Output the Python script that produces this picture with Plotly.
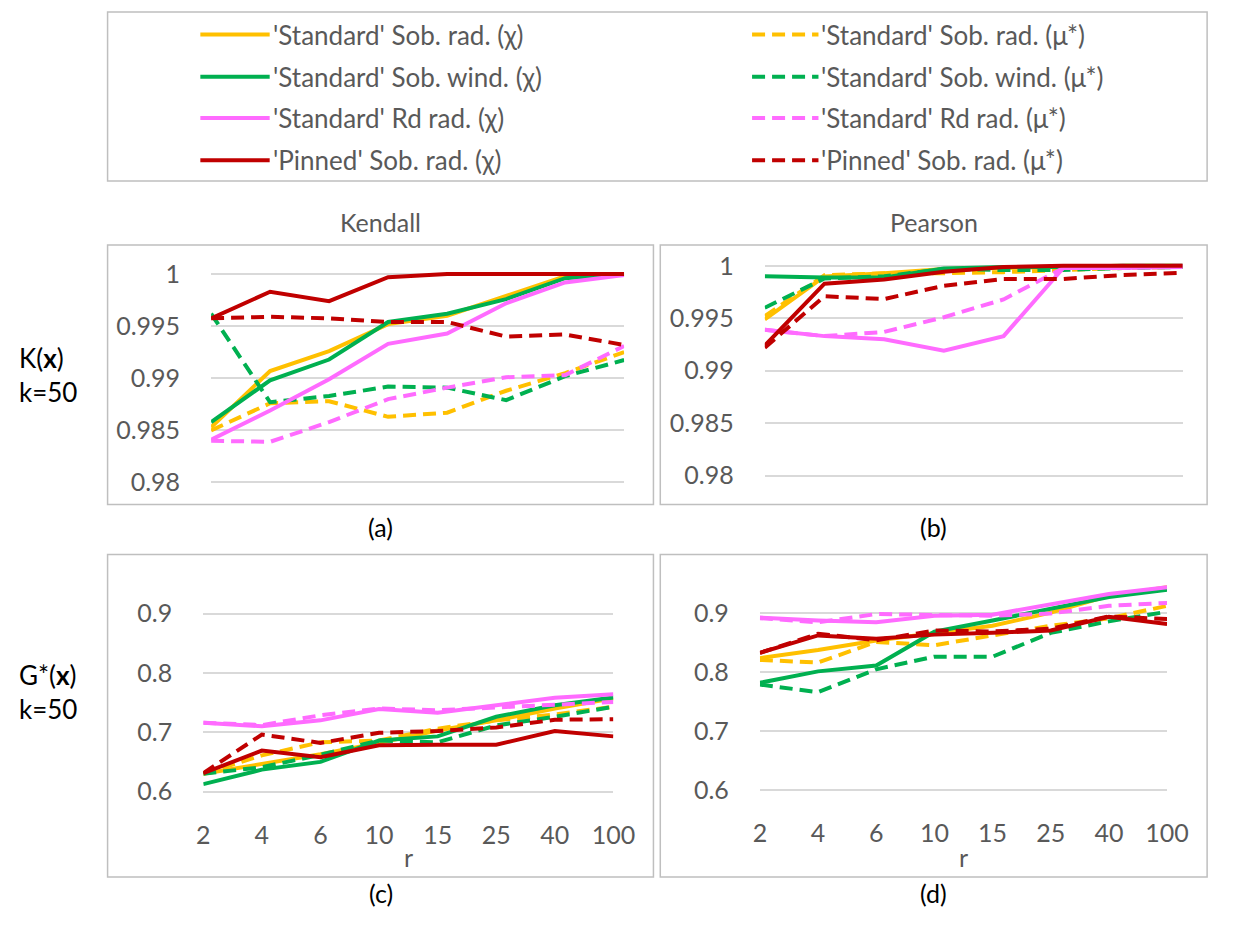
import plotly.graph_objects as go

W, H = 1234, 939

categories = ["2", "4", "6", "10", "15", "25", "40", "100"]

series_names = [
    "'Standard' Sob. rad. (χ)", "'Standard' Sob. rad. (μ*)",
    "'Standard' Sob. wind. (χ)", "'Standard' Sob. wind. (μ*)",
    "'Standard' Rd rad. (χ)", "'Standard' Rd rad. (μ*)",
    "'Pinned' Sob. rad. (χ)", "'Pinned' Sob. rad. (μ*)",
]
series_colors = ["#FFC000", "#FFC000", "#00B050", "#00B050",
                 "#FF6BFF", "#FF6BFF", "#C00000", "#C00000"]
series_dash = ["solid", "13px,7px"] * 4

# (a) K(x), Kendall
kend_sob_rad_chi = [0.9853, 0.9907, 0.9926, 0.9952, 0.9960, 0.9979, 0.9998, 1.0]
kend_sob_rad_mu = [0.9850, 0.9876, 0.9878, 0.9863, 0.9867, 0.9888, 0.9905, 0.9925]
kend_sob_wind_chi = [0.9858, 0.9898, 0.9918, 0.9954, 0.9962, 0.9976, 0.9996, 1.0]
kend_sob_wind_mu = [0.9962, 0.9877, 0.9883, 0.9892, 0.9891, 0.9879, 0.9902, 0.99175]
kend_rd_chi = [0.9841, 0.9869, 0.9899, 0.9933, 0.9943, 0.9972, 0.9992, 0.9999]
kend_rd_mu = [0.9840, 0.9839, 0.9858, 0.9880, 0.9891, 0.9901, 0.9903, 0.9931]
kend_pin_chi = [0.99575, 0.9983, 0.9974, 0.9997, 1.0, 1.0, 1.0, 1.0]
kend_pin_mu = [0.99575, 0.9959, 0.99575, 0.9954, 0.9954, 0.9940, 0.9942, 0.9932]

# (b) K(x), Pearson
pear_sob_rad_chi = [0.9949, 0.9990, 0.9993, 0.9997, 0.9998, 0.9999, 1.0, 1.0]
pear_sob_rad_mu = [0.9952, 0.9991, 0.9993, 0.9993, 0.9994, 0.9996, 0.9998, 0.9999]
pear_sob_wind_chi = [0.9990, 0.9989, 0.9989, 0.99975, 0.9999, 0.9999, 1.0, 1.0]
pear_sob_wind_mu = [0.9960, 0.9988, 0.9990, 0.9997, 0.9996, 0.9996, 0.9998, 0.9999]
pear_rd_chi = [0.9939, 0.9933, 0.9930, 0.9919, 0.9933, 0.9998, 0.9998, 0.9999]
pear_rd_mu = [0.9939, 0.9933, 0.9937, 0.9951, 0.9968, 0.9998, 1.0, 1.0]
pear_pin_chi = [0.9924, 0.9983, 0.9987, 0.99944, 0.9999, 1.0, 1.0, 1.0]
pear_pin_mu = [0.9922, 0.9971, 0.99684, 0.9981, 0.99875, 0.99875, 0.99913, 0.99934]

# (c) G*(x), Kendall
gk_sob_rad_chi = [0.630, 0.6465, 0.663, 0.682, 0.703, 0.720, 0.740, 0.757]
gk_sob_rad_mu = [0.630, 0.661, 0.683, 0.686, 0.706, 0.720, 0.730, 0.743]
gk_sob_wind_chi = [0.6125, 0.637, 0.650, 0.686, 0.693, 0.726, 0.7455, 0.7585]
gk_sob_wind_mu = [0.630, 0.641, 0.662, 0.686, 0.683, 0.7115, 0.726, 0.743]
gk_rd_chi = [0.716, 0.710, 0.720, 0.739, 0.733, 0.7455, 0.758, 0.764]
gk_rd_mu = [0.716, 0.712, 0.7285, 0.740, 0.737, 0.742, 0.7455, 0.751]
gk_pin_chi = [0.631, 0.669, 0.658, 0.678, 0.679, 0.679, 0.702, 0.693]
gk_pin_mu = [0.631, 0.696, 0.682, 0.699, 0.702, 0.708, 0.721, 0.722]

# (d) G*(x), Pearson
gp_sob_rad_chi = [0.824, 0.8377, 0.854, 0.867, 0.879, 0.9015, 0.930, 0.9445]
gp_sob_rad_mu = [0.821, 0.8165, 0.8516, 0.846, 0.8627, 0.879, 0.8917, 0.913]
gp_sob_wind_chi = [0.782, 0.8015, 0.8115, 0.869, 0.888, 0.908, 0.928, 0.9405]
gp_sob_wind_mu = [0.779, 0.766, 0.805, 0.8265, 0.8265, 0.867, 0.8866, 0.903]
gp_rd_chi = [0.893, 0.888, 0.885, 0.896, 0.898, 0.9156, 0.933, 0.9445]
gp_rd_mu = [0.892, 0.885, 0.899, 0.898, 0.896, 0.900, 0.913, 0.918]
gp_pin_chi = [0.833, 0.8627, 0.857, 0.864, 0.867, 0.871, 0.8944, 0.882]
gp_pin_mu = [0.833, 0.8655, 0.8544, 0.871, 0.8694, 0.874, 0.895, 0.8905]

k_ticks = [0.98, 0.985, 0.99, 0.995, 1.0]
k_ticktext = ["0.98", "0.985", "0.99", "0.995", "1"]
g_ticks = [0.6, 0.7, 0.8, 0.9]
g_ticktext = ["0.6", "0.7", "0.8", "0.9"]

panels_data = [
    [kend_sob_rad_chi, kend_sob_rad_mu, kend_sob_wind_chi, kend_sob_wind_mu,
     kend_rd_chi, kend_rd_mu, kend_pin_chi, kend_pin_mu],
    [pear_sob_rad_chi, pear_sob_rad_mu, pear_sob_wind_chi, pear_sob_wind_mu,
     pear_rd_chi, pear_rd_mu, pear_pin_chi, pear_pin_mu],
    [gk_sob_rad_chi, gk_sob_rad_mu, gk_sob_wind_chi, gk_sob_wind_mu,
     gk_rd_chi, gk_rd_mu, gk_pin_chi, gk_pin_mu],
    [gp_sob_rad_chi, gp_sob_rad_mu, gp_sob_wind_chi, gp_sob_wind_mu,
     gp_rd_chi, gp_rd_mu, gp_pin_chi, gp_pin_mu],
]


def fx(px):
    return px / W


def fy(py):
    return 1 - py / H


FONT = "Lato, 'Open Sans', sans-serif"
GREY = "#595959"
BORDER = "#BFBFBF"

# panel geometry in pixels: x domain (left, right), y domain (top, bottom), y range
panel_geo = [
    dict(x=(209, 632), y=(262.2, 488.0), yr=[0.9795, 1.0008], tv=k_ticks, tt=k_ticktext, xl=False),
    dict(x=(776, 1204), y=(253.8, 481.0), yr=[0.9795, 1.0008], tv=k_ticks, tt=k_ticktext, xl=False),
    dict(x=(201, 621), y=(579.8, 803.2), yr=[0.59, 0.96], tv=g_ticks, tt=g_ticktext, xl=True),
    dict(x=(771, 1188), y=(580.1, 801.3), yr=[0.59, 0.96], tv=g_ticks, tt=g_ticktext, xl=True),
]

fig = go.Figure()
layout = dict(
    width=W, height=H, margin=dict(l=0, r=0, t=0, b=0),
    paper_bgcolor="white", plot_bgcolor="white",
    showlegend=False, font=dict(family=FONT, color=GREY),
)

for i, (geo, pdata) in enumerate(zip(panel_geo, panels_data)):
    n = "" if i == 0 else str(i + 1)
    layout["xaxis" + n] = dict(
        domain=[fx(geo["x"][0]), fx(geo["x"][1])],
        anchor="y" + n, type="category", categoryorder="array",
        categoryarray=categories, range=[0, 7],
        showgrid=False, zeroline=False, showline=False, ticks="",
        showticklabels=geo["xl"], tickfont=dict(family=FONT, size=25, color=GREY),
        ticklabelstandoff=20,
    )
    layout["yaxis" + n] = dict(
        domain=[fy(geo["y"][1]), fy(geo["y"][0])],
        anchor="x" + n, range=geo["yr"], tickvals=geo["tv"], ticktext=geo["tt"],
        showgrid=True, gridcolor="#D9D9D9", gridwidth=1.5,
        zeroline=False, showline=False, ticks="",
        tickfont=dict(family=FONT, size=25, color=GREY),
        ticklabelstandoff=30,
    )
    for vals, name, col, dash in zip(pdata, series_names, series_colors, series_dash):
        fig.add_trace(go.Scatter(
            x=categories, y=vals, mode="lines", name=name,
            line=dict(color=col, width=4, dash=dash),
            xaxis="x" + n, yaxis="y" + n, showlegend=False,
        ))

shapes = []
# panel frames and legend frame
for (x0, x1, y0, y1) in [(103, 662, 241, 505), (669, 1229, 241, 505),
                         (103, 662, 556, 884), (669, 1229, 556, 884),
                         (103, 1229, 4, 176)]:
    shapes.append(dict(type="rect", xref="paper", yref="paper",
                       x0=fx(x0), x1=fx(x1), y0=fy(y1), y1=fy(y0),
                       line=dict(color=BORDER, width=1.5), fillcolor="rgba(0,0,0,0)"))

annotations = []
# legend (two columns: solid left, dashed right)
rows_y = [27, 70, 112, 155]
for idx, (name, col, dash) in enumerate(zip(series_names, series_colors, series_dash)):
    row = idx // 2
    colm = idx % 2
    lx0, lx1, tx = (198, 269, 270) if colm == 0 else (763, 831, 832)
    shapes.append(dict(type="line", xref="paper", yref="paper",
                       x0=fx(lx0), x1=fx(lx1), y0=fy(rows_y[row]), y1=fy(rows_y[row]),
                       line=dict(color=col, width=4, dash=dash)))
    annotations.append(dict(x=fx(tx), y=fy(rows_y[row]), xref="paper", yref="paper",
                            text=name, showarrow=False, xanchor="left", yanchor="middle",
                            font=dict(family=FONT, size=26, color=GREY)))

for txt, x, y in [("Kendall", 383, 218), ("Pearson", 949, 218)]:
    annotations.append(dict(x=fx(x), y=fy(y), xref="paper", yref="paper", text=txt,
                            showarrow=False, xanchor="center", yanchor="middle",
                            font=dict(family=FONT, size=25, color=GREY)))
for txt, x, y in [("(a)", 383, 528), ("(b)", 949, 528), ("(c)", 383, 900), ("(d)", 949, 900)]:
    annotations.append(dict(x=fx(x), y=fy(y), xref="paper", yref="paper", text=txt,
                            showarrow=False, xanchor="center", yanchor="middle",
                            font=dict(family=FONT, size=25, color="#000000")))
for x in [411, 979.5]:
    annotations.append(dict(x=fx(x), y=fy(864), xref="paper", yref="paper", text="r",
                            showarrow=False, xanchor="center", yanchor="middle",
                            font=dict(family=FONT, size=25, color=GREY)))
for txt, y in [("K(<b>x</b>)<br>k=50", 373), ("G*(<b>x</b>)<br>k=50", 696)]:
    annotations.append(dict(x=fx(10), y=fy(y), xref="paper", yref="paper", text=txt,
                            showarrow=False, xanchor="left", yanchor="middle", align="left",
                            font=dict(family=FONT, size=26, color="#000000")))

layout["shapes"] = shapes
layout["annotations"] = annotations
fig.update_layout(**layout)
fig.write_html("out.html")
